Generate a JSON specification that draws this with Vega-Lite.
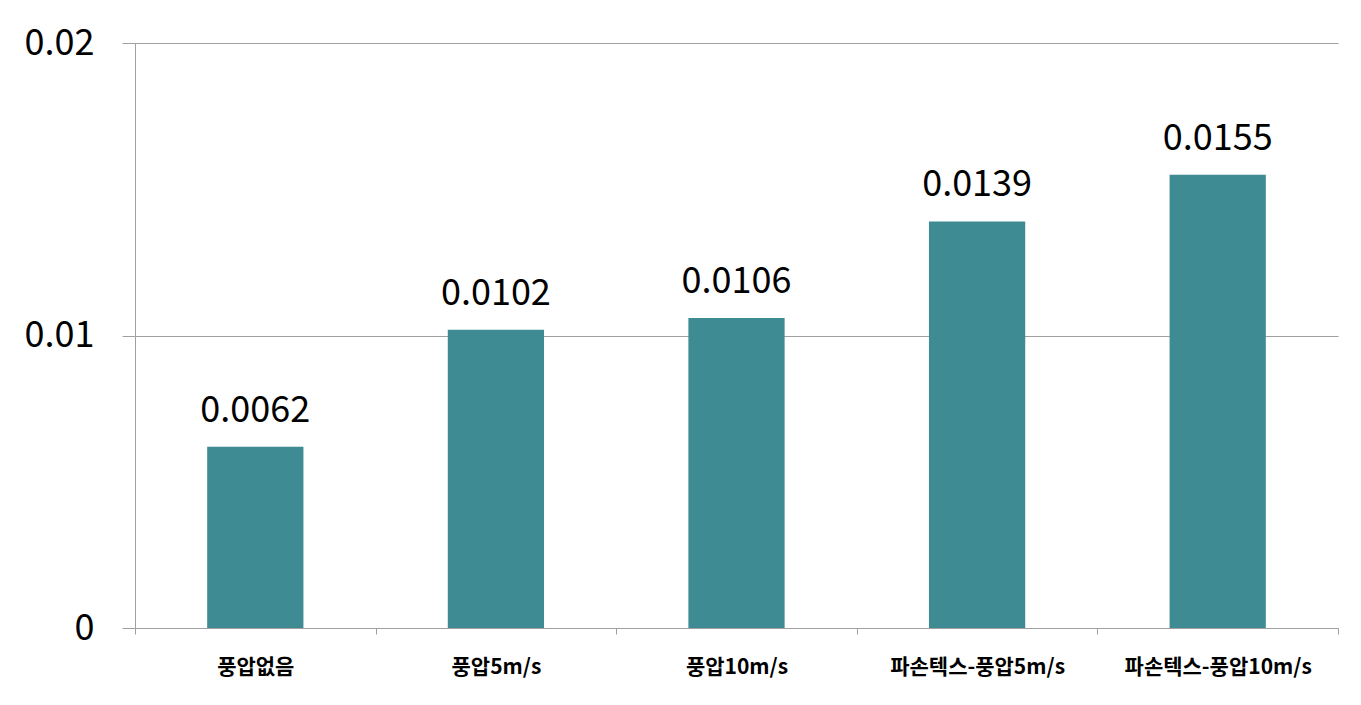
{
  "$schema": "https://vega.github.io/schema/vega-lite/v6.json",
  "autosize": {"type": "none"},
  "width": 1203,
  "height": 585,
  "padding": {"left": 135, "top": 43, "right": 23, "bottom": 77},
  "background": "white",
  "data": {"values": [
    {"category": "풍압없음", "value": 0.0062},
    {"category": "풍압5m/s", "value": 0.0102},
    {"category": "풍압10m/s", "value": 0.0106},
    {"category": "파손텍스-풍압5m/s", "value": 0.0139},
    {"category": "파손텍스-풍압10m/s", "value": 0.0155}
  ]},
  "config": {
    "view": {"stroke": null},
    "font": "Noto Sans CJK KR"
  },
  "encoding": {
    "x": {
      "field": "category", "type": "nominal", "sort": null,
      "scale": {"paddingInner": 0, "paddingOuter": 0},
      "axis": {
        "title": null, "labelAngle": 0, "tickBand": "extent",
        "labelFont": "Noto Sans CJK KR", "labelFontWeight": "bold", "labelFontSize": 21,
        "labelColor": "#000000", "labelPadding": 22, "labelLimit": 0, "labelOverlap": false,
        "domainColor": "#A0A0A0", "tickColor": "#A0A0A0", "tickSize": 6,
        "domainWidth": 1, "tickWidth": 1
      }
    },
    "y": {
      "field": "value", "type": "quantitative",
      "scale": {"domain": [0, 0.02], "nice": false},
      "axis": {
        "title": null, "values": [0, 0.01, 0.02], "format": ".2~f",
        "labelFont": "Noto Sans CJK KR", "labelFontSize": 36, "labelColor": "#000000",
        "labelPadding": 28, "tickSize": 13, "tickColor": "#A0A0A0",
        "domainColor": "#A0A0A0", "gridColor": "#A0A0A0", "grid": true,
        "labelBaseline": "middle"
      }
    }
  },
  "layer": [
    {"mark": {"type": "bar", "width": {"band": 0.4}, "color": "#3E8B93"}},
    {"mark": {"type": "text", "baseline": "alphabetic", "dy": -25, "fontSize": 36, "color": "#000000", "font": "Noto Sans CJK KR"},
     "encoding": {"text": {"field": "value", "type": "quantitative", "format": ".4f"}}}
  ]
}
